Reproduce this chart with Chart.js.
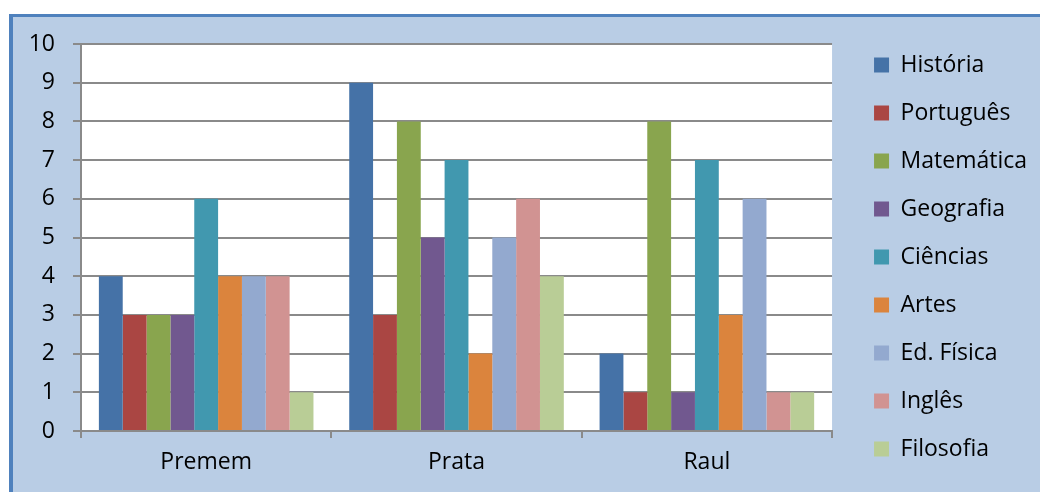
<!DOCTYPE html>
<html>
<head>
<meta charset="utf-8">
<script src="https://cdn.jsdelivr.net/npm/chart.js@4/dist/chart.umd.min.js"></script>
<style>
  html, body { margin: 0; padding: 0; background: #ffffff; }
  #wrap { position: relative; width: 1040px; height: 492px; }
</style>
</head>
<body>
<div id="wrap"><canvas id="chart" width="1040" height="492"></canvas></div>
<script>
// Escolas e disciplinas
const categories = ['Premem', 'Prata', 'Raul'];
const subjects = ['História', 'Português', 'Matemática', 'Geografia', 'Ciências', 'Artes', 'Ed. Física', 'Inglês', 'Filosofia'];

// Notas por disciplina (Premem, Prata, Raul)
const historia   = [4, 9, 2];
const portugues  = [3, 3, 1];
const matematica = [3, 8, 8];
const geografia  = [3, 5, 1];
const ciencias   = [6, 7, 7];
const artes      = [4, 2, 3];
const edFisica   = [4, 5, 6];
const ingles     = [4, 6, 1];
const filosofia  = [1, 4, 1];

const yTicks = [0, 1, 2, 3, 4, 5, 6, 7, 8, 9, 10];

const seriesValues = [historia, portugues, matematica, geografia, ciencias, artes, edFisica, ingles, filosofia];
const seriesColors = ['#4572A7', '#AA4643', '#89A54E', '#71588F', '#4198AF', '#DB843D', '#93A9CF', '#D19392', '#B9CD96'];

const FONT = "'Open Sans', 'Noto Sans', sans-serif";
const FONT_SIZE = 23;
const GRID = '#8a8a8a';
const LEGEND_BOX_X = 874;   // left edge of the legend swatches
const BOX = 15;
const LEGEND_PAD = 48 - FONT_SIZE;   // 48px from one legend row to the next
const PLOT_RIGHT = 832;

// Moldura azul clara com borda azul e área de plotagem branca
const frame = {
  id: 'frame',
  beforeDraw(chart) {
    const { ctx, width, height, chartArea } = chart;
    ctx.save();
    ctx.fillStyle = '#ffffff';
    ctx.fillRect(0, 0, width, height);
    ctx.fillStyle = '#4F81BD';
    ctx.fillRect(9, 14, width - 9, height - 14);
    ctx.fillStyle = '#B9CDE5';
    ctx.fillRect(13, 17, width - 13, height - 17);
    ctx.fillStyle = '#ffffff';
    ctx.fillRect(chartArea.left, chartArea.top, chartArea.right - chartArea.left, chartArea.bottom - chartArea.top);
    ctx.restore();
  }
};

function draw() {
  const canvas = document.getElementById('chart');
  // right padding so the legend column starts at LEGEND_BOX_X
  // (a vertical legend is its label column plus 10px on the right)
  const mctx = canvas.getContext('2d');
  mctx.font = FONT_SIZE + 'px ' + FONT;
  const textW = Math.max(...subjects.map(s => mctx.measureText(s).width));
  const colW = BOX + FONT_SIZE / 2 + textW;
  const rightPad = Math.max(0, Math.round(1040 - LEGEND_BOX_X - colW - 10));

  new Chart(canvas, {
    type: 'bar',
    data: {
      labels: categories,
      datasets: subjects.map((name, i) => ({
        label: name,
        data: seriesValues[i],
        backgroundColor: seriesColors[i],
        borderWidth: 0,
        xAxisID: 'x',
        yAxisID: 'y',
        categoryPercentage: 9 / 10.5,
        barPercentage: 1.0
      }))
    },
    options: {
      responsive: false,
      animation: false,
      devicePixelRatio: 1,
      layout: { padding: { left: 13, top: 22, right: rightPad, bottom: 0 } },
      plugins: {
        title: { display: false },
        tooltip: { enabled: false },
        legend: {
          position: 'right',
          align: 'center',
          maxWidth: 400,
          labels: {
            color: '#000000',
            font: { family: FONT, size: FONT_SIZE },
            boxWidth: BOX,
            boxHeight: BOX,
            padding: LEGEND_PAD
          }
        }
      },
      scales: {
        x: {
          type: 'category',
          position: 'bottom',
          offset: true,
          grid: {
            display: true,
            drawOnChartArea: false,
            drawTicks: true,
            tickLength: 7,
            color: GRID,
            lineWidth: 2,
            offset: true
          },
          border: { display: true, color: GRID, width: 2 },
          ticks: { color: '#000000', font: { family: FONT, size: FONT_SIZE }, padding: 11, maxRotation: 0 },
          afterFit(scale) { scale.height = 61; }
        },
        y: {
          type: 'linear',
          position: 'left',
          min: 0,
          max: 10,
          afterBuildTicks(scale) { scale.ticks = yTicks.map(v => ({ value: v })); },
          grid: { color: GRID, lineWidth: 2, drawTicks: true, tickLength: 8 },
          border: { display: true, color: GRID, width: 2 },
          ticks: { color: '#000000', font: { family: FONT, size: FONT_SIZE }, padding: 18 },
          afterFit(scale) { scale.width = 68; }
        },
        xTop: {
          type: 'linear',
          position: 'top',
          display: true,
          grid: { display: false },
          border: { display: false },
          ticks: { display: false },
          afterFit(scale) { scale.height = 22; }
        },
        yRight: {
          type: 'linear',
          position: 'right',
          display: true,
          grid: { display: false },
          border: { display: false },
          ticks: { display: false },
          afterFit(scale) { scale.width = LEGEND_BOX_X - LEGEND_PAD - PLOT_RIGHT; }
        }
      }
    },
    plugins: [frame]
  });
}

if (document.fonts && document.fonts.load) {
  document.fonts.load(FONT_SIZE + "px 'Open Sans'").then(draw, draw);
} else {
  draw();
}
</script>
</body>
</html>
